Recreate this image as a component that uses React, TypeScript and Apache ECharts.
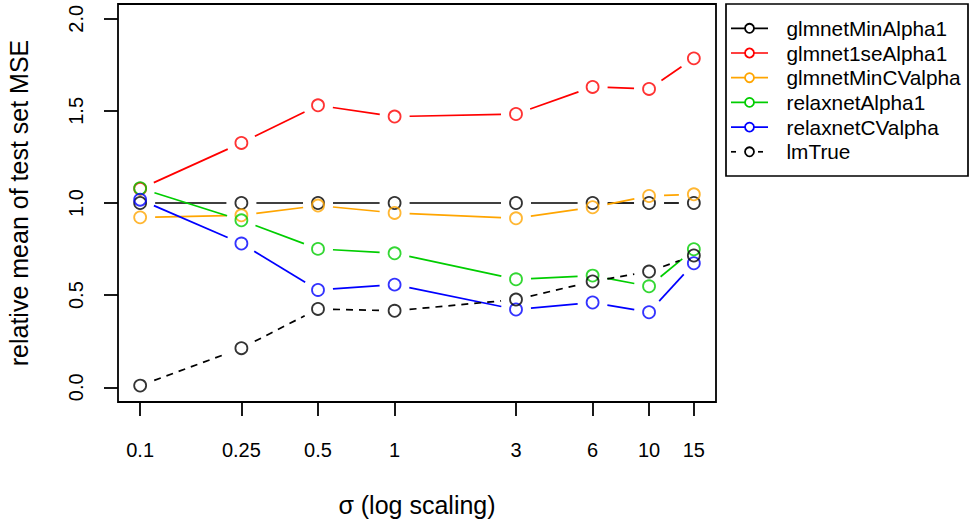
import React, { useEffect, useRef } from "react";
import * as echarts from "echarts";

// sigma values (x, plotted on a log10 scale)
const sigma = [0.1, 0.25, 0.5, 1, 3, 6, 10, 15];
const sigmaLabels = ["0.1", "0.25", "0.5", "1", "3", "6", "10", "15"];

// relative mean of test set MSE per method
const glmnetMinAlpha1 = [1.0, 1.0, 1.0, 1.0, 1.0, 1.0, 1.0, 1.0];
const glmnet1seAlpha1 = [1.077, 1.326, 1.53, 1.469, 1.483, 1.63, 1.619, 1.785];
const glmnetMinCValpha = [0.922, 0.933, 0.986, 0.946, 0.917, 0.977, 1.038, 1.047];
const relaxnetAlpha1 = [1.08, 0.906, 0.751, 0.727, 0.586, 0.606, 0.548, 0.749];
const relaxnetCValpha = [1.018, 0.78, 0.528, 0.557, 0.422, 0.46, 0.407, 0.673];
const lmTrue = [0.009, 0.212, 0.425, 0.415, 0.476, 0.574, 0.628, 0.715];

const seriesNames = [
  "glmnetMinAlpha1",
  "glmnet1seAlpha1",
  "glmnetMinCValpha",
  "relaxnetAlpha1",
  "relaxnetCValpha",
  "lmTrue",
];
const seriesValues = [
  glmnetMinAlpha1,
  glmnet1seAlpha1,
  glmnetMinCValpha,
  relaxnetAlpha1,
  relaxnetCValpha,
  lmTrue,
];
const seriesColors = ["#000000", "#FF0000", "#FFA500", "#00CD00", "#0000FF", "#000000"];
const seriesDashed = [false, false, false, false, false, true];

const yTicks = [0, 0.5, 1, 1.5, 2];

const FONT = "'Liberation Sans', Arial, Helvetica, sans-serif";
const GAP = 15; // distance kept free between a segment end and a point centre
const LW = 1.7;
const PT_LW = 1.8;

const log10 = (v: number) => Math.log(v) / Math.LN10;
const xLogTicks = sigma.map(log10);
const xLo = log10(sigma[0]);
const xHi = log10(sigma[sigma.length - 1]);
const xPad = (xHi - xLo) * 0.04;
const yPad = (2 - 0) * 0.04;

function buildSeries() {
  const out: any[] = [];
  seriesValues.forEach((vals, k) => {
    const color = seriesColors[k];
    const dashed = seriesDashed[k];
    const segs: number[][] = [];
    for (let i = 0; i < vals.length - 1; i++) {
      segs.push([xLogTicks[i], vals[i], xLogTicks[i + 1], vals[i + 1]]);
    }
    out.push({
      type: "custom",
      name: seriesNames[k] + " lines",
      data: segs,
      encode: { x: [0, 2], y: [1, 3] },
      silent: true,
      z: 2 + k,
      renderItem: (_params: any, api: any) => {
        const a = api.coord([api.value(0), api.value(1)]);
        const b = api.coord([api.value(2), api.value(3)]);
        const dx = b[0] - a[0];
        const dy = b[1] - a[1];
        const len = Math.hypot(dx, dy);
        if (len <= 2 * GAP) return { type: "group", children: [] };
        const ux = dx / len;
        const uy = dy / len;
        return {
          type: "line",
          shape: {
            x1: a[0] + ux * GAP,
            y1: a[1] + uy * GAP,
            x2: b[0] - ux * GAP,
            y2: b[1] - uy * GAP,
          },
          style: {
            stroke: color,
            lineWidth: LW,
            lineDash: dashed ? [7, 6] : null,
            fill: null,
          },
        };
      },
    });
    out.push({
      type: "scatter",
      name: seriesNames[k],
      data: vals.map((v, i) => [xLogTicks[i], v]),
      symbol: "circle",
      symbolSize: 12,
      silent: true,
      z: 2 + k,
      itemStyle: { color: "rgba(0,0,0,0)", borderColor: color, borderWidth: PT_LW },
    });
  });
  return out;
}

function buildLegend() {
  const children: any[] = [
    {
      type: "rect",
      shape: { x: 726, y: 4, width: 242, height: 172 },
      style: { fill: "#fff", stroke: "#000", lineWidth: LW },
    },
  ];
  seriesNames.forEach((name, i) => {
    const y = 28.3 + i * 24.7;
    const color = seriesColors[i];
    if (seriesDashed[i]) {
      children.push({
        type: "line",
        shape: { x1: 731, y1: y, x2: 736, y2: y },
        style: { stroke: color, lineWidth: LW },
      });
      children.push({
        type: "line",
        shape: { x1: 758, y1: y, x2: 763, y2: y },
        style: { stroke: color, lineWidth: LW },
      });
    } else {
      children.push({
        type: "line",
        shape: { x1: 731, y1: y, x2: 768, y2: y },
        style: { stroke: color, lineWidth: LW },
      });
    }
    children.push({
      type: "circle",
      shape: { cx: 749.5, cy: y, r: 4.5 },
      style: { fill: "#fff", stroke: color, lineWidth: PT_LW },
    });
    children.push({
      type: "text",
      x: 786.5,
      y: y,
      style: {
        text: name,
        fontSize: 20.8,
        fontFamily: FONT,
        fill: "#000",
        textAlign: "left",
        textVerticalAlign: "middle",
      },
    });
  });
  return children;
}

export default function App() {
  const ref = useRef<HTMLDivElement>(null);

  useEffect(() => {
    if (!ref.current) return;
    const chart = echarts.init(ref.current, null, { renderer: "svg" });
    chart.setOption({
      animation: false,
      backgroundColor: "#ffffff",
      textStyle: { fontFamily: FONT },
      grid: {
        left: 118,
        right: 255,
        top: 4,
        bottom: 118,
        show: true,
        borderColor: "#000",
        borderWidth: 1.8,
        backgroundColor: "rgba(0,0,0,0)",
        containLabel: false,
      },
      xAxis: {
        type: "value",
        position: "bottom",
        min: xLo - xPad,
        max: xHi + xPad,
        axisLine: { show: false, onZero: false },
        splitLine: { show: false },
        axisTick: {
          show: true,
          customValues: xLogTicks,
          length: 14,
          lineStyle: { color: "#000", width: 1.8 },
        },
        axisLabel: {
          show: true,
          customValues: xLogTicks,
          margin: 38,
          fontSize: 20,
          fontFamily: FONT,
          color: "#000",
          formatter: (v: number) => {
            let best = 0;
            xLogTicks.forEach((t, i) => {
              if (Math.abs(t - v) < Math.abs(xLogTicks[best] - v)) best = i;
            });
            return sigmaLabels[best];
          },
        },
      },
      yAxis: {
        type: "value",
        position: "left",
        min: -yPad,
        max: 2 + yPad,
        axisLine: { show: false, onZero: false },
        splitLine: { show: false },
        axisTick: {
          show: true,
          customValues: yTicks,
          length: 14,
          lineStyle: { color: "#000", width: 1.8 },
        },
        axisLabel: {
          show: true,
          customValues: yTicks,
          rotate: 90,
          margin: 32,
          fontSize: 20,
          fontFamily: FONT,
          color: "#000",
          formatter: (v: number) => v.toFixed(1),
        },
      },
      graphic: [
        {
          type: "text",
          x: 417,
          y: 505,
          style: {
            text: "σ (log scaling)",
            fontSize: 25,
            fontFamily: FONT,
            fill: "#000",
            textAlign: "center",
            textVerticalAlign: "middle",
          },
        },
        {
          type: "text",
          x: 19,
          y: 203,
          rotation: Math.PI / 2,
          style: {
            text: "relative mean of test set MSE",
            fontSize: 25,
            fontFamily: FONT,
            fill: "#000",
            textAlign: "center",
            textVerticalAlign: "middle",
          },
        },
        { type: "group", children: buildLegend() },
      ],
      series: buildSeries(),
    });
    return () => chart.dispose();
  }, []);

  return (
    <div
      ref={ref}
      style={{ position: "absolute", left: 0, top: 0, width: 971, height: 520 }}
    />
  );
}
